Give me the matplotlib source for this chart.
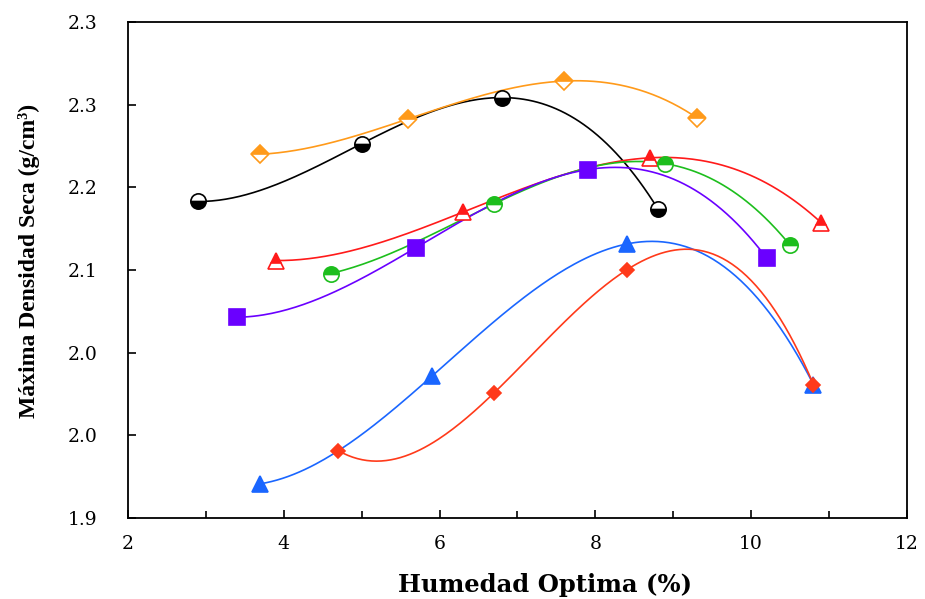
import numpy as np
import matplotlib
matplotlib.use("Agg")
import matplotlib.pyplot as plt
from matplotlib.ticker import FixedLocator, FixedFormatter, MultipleLocator

# ---- data ----
black_x = [2.9, 5.0, 6.8, 8.8]
black_y = [2.168, 2.217, 2.256, 2.162]

orange_x = [3.7, 5.6, 7.6, 9.3]
orange_y = [2.208, 2.238, 2.270, 2.239]

redtri_x = [3.9, 6.3, 8.7, 10.9]
redtri_y = [2.118, 2.159, 2.205, 2.150]

green_x = [4.6, 6.7, 8.9, 10.5]
green_y = [2.107, 2.166, 2.200, 2.131]

purple_x = [3.4, 5.7, 7.9, 10.2]
purple_y = [2.070, 2.129, 2.195, 2.120]

blue_x = [3.7, 5.9, 8.4, 10.8]
blue_y = [1.929, 2.020, 2.132, 2.013]

reddia_x = [4.7, 6.7, 8.4, 10.8]
reddia_y = [1.957, 2.006, 2.110, 2.013]

x_ticks = [2, 4, 6, 8, 10, 12]
y_ticks = [1.90, 1.97, 2.04, 2.11, 2.18, 2.25, 2.32]
y_tick_labels = ["1.9", "2.0", "2.0", "2.1", "2.2", "2.3", "2.3"]

plt.rcParams['font.family'] = ['DejaVu Serif']

fig = plt.figure(figsize=(9.25, 5.99), dpi=100)
ax = fig.add_axes([0.1384, 0.1352, 0.9805 - 0.1384, 0.9633 - 0.1352])

series = [
    (black_x, black_y, '#000000', dict(marker='o', ms=11, fillstyle='bottom', mfc='#000000', mfcalt='white', mec='#000000')),
    (orange_x, orange_y, '#FF9A1A', dict(marker='D', ms=9, fillstyle='top', mfc='#FF9A1A', mfcalt='white', mec='#FF9A1A')),
    (redtri_x, redtri_y, '#FF1A1A', dict(marker='^', ms=11, fillstyle='top', mfc='#FF1A1A', mfcalt='white', mec='#FF1A1A')),
    (green_x, green_y, '#1DBE1D', dict(marker='o', ms=11, fillstyle='top', mfc='#1DBE1D', mfcalt='white', mec='#1DBE1D')),
    (purple_x, purple_y, '#6A00FF', dict(marker='s', ms=11, mfc='#6A00FF', mec='#6A00FF')),
    (blue_x, blue_y, '#1A66FF', dict(marker='^', ms=11, mfc='#1A66FF', mec='#1A66FF')),
    (reddia_x, reddia_y, '#FF3A1A', dict(marker='D', ms=7, mfc='#FF3A1A', mec='#FF3A1A')),
]

for xs, ys, col, mk in series:
    coef = np.polyfit(xs, ys, 3)
    xx = np.linspace(min(xs), max(xs), 200)
    ax.plot(xx, np.polyval(coef, xx), color=col, lw=1.2, zorder=2)
    ax.plot(xs, ys, linestyle='none', markeredgewidth=1.2, zorder=3, **mk)

ax.set_xlim(2, 12)
ax.set_ylim(y_ticks[0], y_ticks[-1])
ax.xaxis.set_major_locator(FixedLocator(x_ticks))
ax.xaxis.set_minor_locator(MultipleLocator(1))
ax.yaxis.set_major_locator(FixedLocator(y_ticks))
ax.yaxis.set_major_formatter(FixedFormatter(y_tick_labels))

ax.tick_params(axis='both', which='major', direction='in', length=6, width=1.2, labelsize=13.5)
ax.tick_params(axis='y', which='major', pad=22)
ax.tick_params(axis='x', which='minor', direction='in', length=5, width=1.2)
ax.tick_params(axis='x', which='major', pad=12)
for s in ax.spines.values():
    s.set_linewidth(1.3)

ax.set_xlabel("Humedad Optima (%)", fontsize=17.5, fontweight='bold', va='center')
ax.xaxis.set_label_coords(0.535, -0.135)
ax.set_ylabel("Máxima Densidad Seca (g/cm³)", fontsize=17, fontweight='bold', va='center',
              family=['Liberation Serif', 'DejaVu Serif'])
ax.yaxis.set_label_coords(-0.127, 0.518)

fig.savefig("out.png", dpi=100)
